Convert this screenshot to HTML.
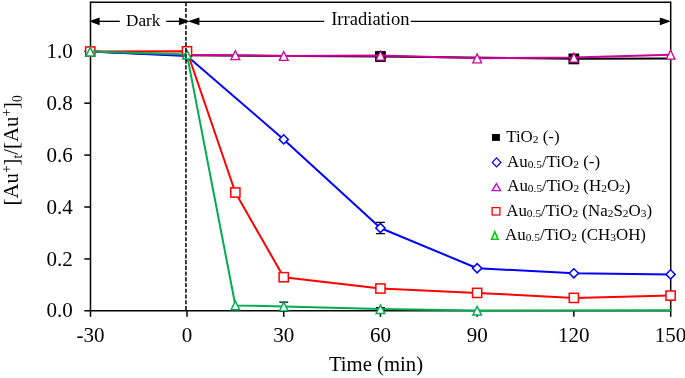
<!DOCTYPE html>
<html><head><meta charset="utf-8"><title>chart</title>
<style>html,body{margin:0;padding:0;background:#fff}svg{display:block;will-change:transform}text{font-family:"Liberation Serif",serif;fill:#000}</style></head><body>
<svg width="685" height="378" viewBox="0 0 685 378">
<rect width="685" height="378" fill="#fff"/>
<g stroke="#000" stroke-width="1.5" fill="none">
<path d="M90.5,2.15 H670.7"/>
<path d="M90.5,1.45 V310.85"/>
<path d="M670.7,1.45 V316.85"/>
<path d="M84.3,310.85 H670.7"/>
<path d="M84.3,258.93 H90.5"/>
<path d="M84.3,207.01 H90.5"/>
<path d="M84.3,155.09 H90.5"/>
<path d="M84.3,103.17 H90.5"/>
<path d="M84.3,51.25 H90.5"/>
<path d="M90.50,310.85 V316.85"/>
<path d="M187.00,310.85 V316.85"/>
<path d="M283.72,310.85 V316.85"/>
<path d="M380.43,310.85 V316.85"/>
<path d="M477.15,310.85 V316.85"/>
<path d="M573.87,310.85 V316.85"/>
</g>
<g font-size="21px" text-anchor="end">
<text x="72.7" y="317.45">0.0</text>
<text x="72.7" y="265.53">0.2</text>
<text x="72.7" y="213.61">0.4</text>
<text x="72.7" y="161.69">0.6</text>
<text x="72.7" y="109.77">0.8</text>
<text x="72.7" y="57.85">1.0</text>
</g>
<g font-size="21px" text-anchor="middle">
<text x="90.48" y="342.2">-30</text>
<text x="187.00" y="342.2">0</text>
<text x="283.72" y="342.2">30</text>
<text x="380.43" y="342.2">60</text>
<text x="477.15" y="342.2">90</text>
<text x="573.87" y="342.2">120</text>
<text x="670.59" y="342.2">150</text>
</g>
<text x="376" y="370.7" font-size="20.7px" text-anchor="middle">Time (min)</text>
<text transform="translate(17.9,150.3) rotate(-90)" font-size="20.8px" text-anchor="middle">[Au<tspan font-size="13.6px" dy="-7">+</tspan><tspan dy="7">]</tspan><tspan font-size="13.6px" dy="4">t</tspan><tspan dy="-4">/[Au</tspan><tspan font-size="13.6px" dy="-7">+</tspan><tspan dy="7">]</tspan><tspan font-size="13.6px" dy="4">0</tspan></text>
<polyline points="90.28,51.50 187.00,55.30 380.43,56.40 573.87,58.70 670.59,58.50" fill="none" stroke="#000000" stroke-width="2" stroke-linejoin="round"/>
<rect x="375.73" y="51.80" width="9.40" height="9.40" fill="#000" stroke="#000000" stroke-width="1.4"/>
<rect x="569.17" y="54.20" width="9.40" height="9.40" fill="#000" stroke="#000000" stroke-width="1.4"/>
<polyline points="90.28,51.50 187.00,56.00 283.72,139.40 380.43,228.00 477.15,268.25 573.87,273.30 670.59,274.40" fill="none" stroke="#0000ff" stroke-width="2" stroke-linejoin="round"/>
<path d="M380.43,222.34 V233.66 M375.93,222.34 H384.93 M375.93,233.66 H384.93" stroke="#000" stroke-width="1.25" fill="none"/>
<path d="M90.28,46.90 L94.88,51.50 L90.28,56.10 L85.68,51.50 Z" fill="#fff" stroke="#0000ff" stroke-width="1.5"/>
<path d="M187.00,51.40 L191.60,56.00 L187.00,60.60 L182.40,56.00 Z" fill="#fff" stroke="#0000ff" stroke-width="1.5"/>
<path d="M283.72,134.80 L288.32,139.40 L283.72,144.00 L279.12,139.40 Z" fill="#fff" stroke="#0000ff" stroke-width="1.5"/>
<path d="M380.43,223.40 L385.03,228.00 L380.43,232.60 L375.83,228.00 Z" fill="#fff" stroke="#0000ff" stroke-width="1.5"/>
<path d="M477.15,263.65 L481.75,268.25 L477.15,272.85 L472.55,268.25 Z" fill="#fff" stroke="#0000ff" stroke-width="1.5"/>
<path d="M573.87,268.70 L578.47,273.30 L573.87,277.90 L569.27,273.30 Z" fill="#fff" stroke="#0000ff" stroke-width="1.5"/>
<path d="M670.59,269.80 L675.19,274.40 L670.59,279.00 L665.99,274.40 Z" fill="#fff" stroke="#0000ff" stroke-width="1.5"/>
<polyline points="187.00,55.10 235.36,55.25 283.72,55.95 380.43,55.60 477.15,58.35 573.87,57.60 670.59,54.70" fill="none" stroke="#cc0099" stroke-width="2" stroke-linejoin="round"/>
<path d="M235.36,50.81 L239.76,59.70 L230.96,59.70 Z" fill="#fff" stroke="#cc0099" stroke-width="1.3" stroke-linejoin="miter" stroke-miterlimit="10"/>
<path d="M283.72,51.51 L288.12,60.40 L279.31,60.40 Z" fill="#fff" stroke="#cc0099" stroke-width="1.3" stroke-linejoin="miter" stroke-miterlimit="10"/>
<path d="M380.43,51.16 L384.84,60.05 L376.03,60.05 Z" fill="#fff" stroke="#cc0099" stroke-width="1.3" stroke-linejoin="miter" stroke-miterlimit="10"/>
<path d="M477.15,53.91 L481.55,62.80 L472.75,62.80 Z" fill="#fff" stroke="#cc0099" stroke-width="1.3" stroke-linejoin="miter" stroke-miterlimit="10"/>
<path d="M573.87,53.16 L578.27,62.05 L569.47,62.05 Z" fill="#fff" stroke="#cc0099" stroke-width="1.3" stroke-linejoin="miter" stroke-miterlimit="10"/>
<path d="M670.59,50.26 L674.99,59.15 L666.18,59.15 Z" fill="#fff" stroke="#cc0099" stroke-width="1.3" stroke-linejoin="miter" stroke-miterlimit="10"/>
<polyline points="90.28,51.50 187.00,51.30 235.36,192.50 283.72,277.20 380.43,288.50 477.15,292.90 573.87,297.90 670.59,295.60" fill="none" stroke="#ff0000" stroke-width="2" stroke-linejoin="round"/>
<rect x="85.68" y="46.90" width="9.20" height="9.20" fill="#fff" stroke="#ff0000" stroke-width="1.5"/>
<rect x="182.40" y="46.70" width="9.20" height="9.20" fill="#fff" stroke="#ff0000" stroke-width="1.5"/>
<rect x="230.76" y="187.90" width="9.20" height="9.20" fill="#fff" stroke="#ff0000" stroke-width="1.5"/>
<rect x="279.12" y="272.60" width="9.20" height="9.20" fill="#fff" stroke="#ff0000" stroke-width="1.5"/>
<rect x="375.83" y="283.90" width="9.20" height="9.20" fill="#fff" stroke="#ff0000" stroke-width="1.5"/>
<rect x="472.55" y="288.30" width="9.20" height="9.20" fill="#fff" stroke="#ff0000" stroke-width="1.5"/>
<rect x="569.27" y="293.30" width="9.20" height="9.20" fill="#fff" stroke="#ff0000" stroke-width="1.5"/>
<rect x="665.99" y="291.00" width="9.20" height="9.20" fill="#fff" stroke="#ff0000" stroke-width="1.5"/>
<polyline points="90.28,51.50 187.00,54.60 235.36,305.40 283.72,306.50 380.43,309.10 477.15,310.60 671.87,310.30" fill="none" stroke="#00ac50" stroke-width="2.0" stroke-linejoin="round"/>
<path d="M283.72,302.13 V311.07 M279.22,302.13 H288.22 M279.22,311.07 H288.22" stroke="#000" stroke-width="1.25" fill="none"/>
<path d="M380.43,307.54 V310.66 M375.93,307.54 H384.93 M375.93,310.66 H384.93" stroke="#000" stroke-width="1.25" fill="none"/>
<path d="M90.28,47.33 L94.56,55.98 L86.00,55.98 Z" fill="#fff" stroke="#00ac50" stroke-width="1.45" stroke-linejoin="miter" stroke-miterlimit="10"/>
<path d="M187.00,50.33 L191.28,58.98 L182.72,58.98 Z" fill="#fff" stroke="#00ac50" stroke-width="1.45" stroke-linejoin="miter" stroke-miterlimit="10"/>
<path d="M235.36,301.13 L239.64,309.78 L231.08,309.78 Z" fill="#fff" stroke="#00ac50" stroke-width="1.45" stroke-linejoin="miter" stroke-miterlimit="10"/>
<path d="M283.72,302.23 L288.00,310.88 L279.44,310.88 Z" fill="#fff" stroke="#00ac50" stroke-width="1.45" stroke-linejoin="miter" stroke-miterlimit="10"/>
<path d="M380.43,304.83 L384.72,313.48 L376.15,313.48 Z" fill="#fff" stroke="#00ac50" stroke-width="1.45" stroke-linejoin="miter" stroke-miterlimit="10"/>
<path d="M477.15,306.33 L481.43,314.98 L472.87,314.98 Z" fill="#fff" stroke="#00ac50" stroke-width="1.45" stroke-linejoin="miter" stroke-miterlimit="10"/>
<path d="M185.95,2.15 V310.85" stroke="#000" stroke-width="1.5" stroke-dasharray="4.1 1.63" stroke-dashoffset="-0.1" fill="none"/>
<g stroke="#000" stroke-width="1.35" fill="none"><path d="M98,21.35 H119.8"/><path d="M166.2,21.35 H181"/><path d="M198,21.35 H324.2"/><path d="M410.8,21.35 H662"/></g>
<path d="M89.0,21.35 L99.6,17.450000000000003 L99.6,25.25 Z" fill="#000"/>
<path d="M189.6,21.35 L179.0,17.450000000000003 L179.0,25.25 Z" fill="#000"/>
<path d="M187.8,21.35 L199.4,17.450000000000003 L199.4,25.25 Z" fill="#000"/>
<path d="M671.0,21.35 L659.8,17.450000000000003 L659.8,25.25 Z" fill="#000"/>
<text x="126" y="25.8" font-size="17.2px">Dark</text>
<text x="331.2" y="24.9" font-size="17.9px" textLength="78.3" lengthAdjust="spacingAndGlyphs">Irradiation</text>
<text x="506.2" y="142.4" font-size="16.9px">TiO<tspan font-size="11.4px" dy="1">2</tspan><tspan dy="-1"> (-)</tspan></text>
<text x="507.0" y="166.9" font-size="16.9px">Au<tspan font-size="11.4px" dy="1">0.5</tspan><tspan dy="-1">/TiO</tspan><tspan font-size="11.4px" dy="1">2</tspan><tspan dy="-1"> </tspan>(-)</text>
<text x="507.2" y="190.9" font-size="16.9px">Au<tspan font-size="11.4px" dy="1">0.5</tspan><tspan dy="-1">/TiO</tspan><tspan font-size="11.4px" dy="1">2</tspan><tspan dy="-1"> </tspan>(H<tspan font-size="11.4px" dy="1">2</tspan><tspan dy="-1">O</tspan><tspan font-size="11.4px" dy="1">2</tspan><tspan dy="-1">)</tspan></text>
<text x="506.2" y="215.8" font-size="16.9px">Au<tspan font-size="11.4px" dy="1">0.5</tspan><tspan dy="-1">/TiO</tspan><tspan font-size="11.4px" dy="1">2</tspan><tspan dy="-1"> </tspan>(Na<tspan font-size="11.4px" dy="1">2</tspan><tspan dy="-1">S</tspan><tspan font-size="11.4px" dy="1">2</tspan><tspan dy="-1">O</tspan><tspan font-size="11.4px" dy="1">3</tspan><tspan dy="-1">)</tspan></text>
<text x="505.0" y="239.6" font-size="16.9px">Au<tspan font-size="11.4px" dy="1">0.5</tspan><tspan dy="-1">/TiO</tspan><tspan font-size="11.4px" dy="1">2</tspan><tspan dy="-1"> </tspan>(CH<tspan font-size="11.4px" dy="1">3</tspan><tspan dy="-1">OH)</tspan></text>
<rect x="492" y="134" width="7.9" height="6.9" fill="#000"/>
<path d="M496.6,157.9 L500.9,162.4 L496.6,166.9 L492.3,162.4 Z" fill="none" stroke="#0000ff" stroke-width="1.3"/>
<path d="M496.4,183.6 L500.6,190.6 L492.2,190.6 Z" fill="none" stroke="#cc00cc" stroke-width="1.3"/>
<rect x="492.1" y="207.6" width="7.8" height="7.4" fill="none" stroke="#ff0000" stroke-width="1.3"/>
<path d="M494.8,231.7 L498.0,239.2 L491.6,239.2 Z" fill="none" stroke="#00cc00" stroke-width="1.6"/>
</svg>
</body></html>
